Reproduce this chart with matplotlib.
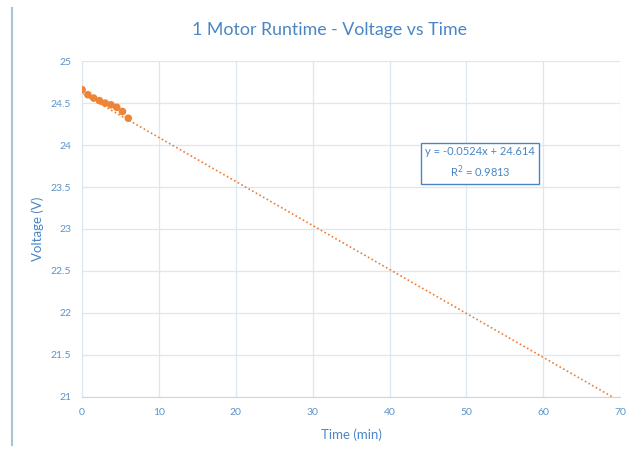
import matplotlib
matplotlib.use("Agg")
import matplotlib.pyplot as plt
from matplotlib.lines import Line2D
import numpy as np

time_min = [0, 0.75, 1.5, 2.25, 3, 3.75, 4.5, 5.25, 6]
voltage = [24.66, 24.60, 24.56, 24.53, 24.50, 24.48, 24.45, 24.40, 24.32]
slope = -0.0524
intercept = 24.614
r2 = 0.9813
x_ticks = [0, 10, 20, 30, 40, 50, 60, 70]
y_ticks = [21, 21.5, 22, 22.5, 23, 23.5, 24, 24.5, 25]
y_labels = ["21", "21.5", "22", "22.5", "23", "23.5", "24", "24.5", "25"]

plt.rcParams['font.family'] = ['Lato', 'DejaVu Sans']
blue = "#4A86C5"
tickc = "#5B93C9"
grid = "#DCE7F2"

fig = plt.figure(figsize=(6.27, 4.53), dpi=100)
ax = fig.add_axes([0.131, 0.124, 0.858, 0.741])

xs = np.array([0, 70])
ax.plot(xs, intercept + slope * xs, linestyle=(0, (1, 1.5)), color="#ED7D31", lw=1.2, zorder=2)
ax.scatter(time_min, voltage, s=30, color="#EE8436", zorder=3, edgecolors="none")

ax.set_xlim(0, 70)
ax.set_ylim(21, 25)
ax.set_xticks(x_ticks)
ax.set_yticks(y_ticks)
ax.set_yticklabels(y_labels)
ax.grid(True, color=grid, lw=0.9)
ax.set_axisbelow(True)
for s in ["top", "right"]:
    ax.spines[s].set_visible(False)
ax.spines["left"].set_color(grid)
ax.spines["bottom"].set_color("#C9D7E6")
ax.tick_params(length=0, colors=tickc, labelsize=7.5, pad=8)
ax.set_xlabel("Time (min)", color=blue, fontsize=9.5, labelpad=8)
ax.set_ylabel("Voltage (V)", color=blue, fontsize=9.5, labelpad=5)
fig.text(330/627, 1-30/453, "1 Motor Runtime - Voltage vs Time", color=blue, fontsize=12.8,
         ha="center", va="center")

ax.text(51.8, 23.79, f"y = {slope}x + {intercept}\nR$^2$ = {r2}", ha="center", va="center",
        color=blue, fontsize=8, linespacing=1.5,
        bbox=dict(boxstyle="square,pad=0.35", fc="white", ec=blue, lw=1))

fig.add_artist(Line2D([12/627, 12/627], [1-8/453, 1-445/453], color="#A9C3D6", lw=1.5))

fig.savefig("out.png", dpi=100)
